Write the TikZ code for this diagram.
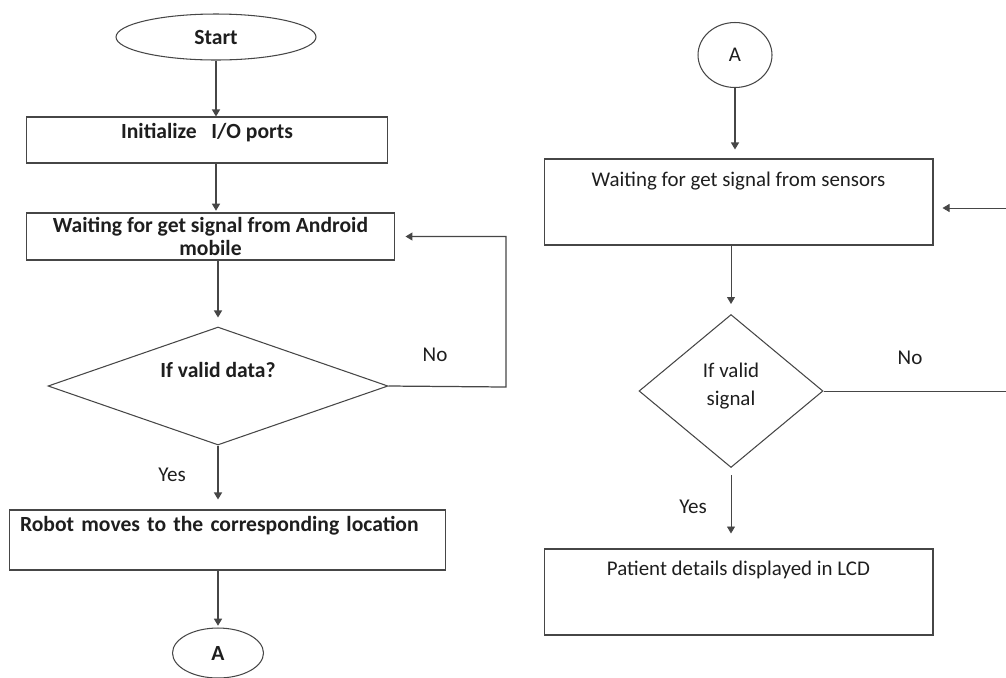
\documentclass[tikz,border=0pt]{standalone}
\usepackage{fontspec}
\setmainfont{Carlito}
\usetikzlibrary{positioning, arrows.meta, shapes.geometric, calc}
\definecolor{flowline}{RGB}{70, 70, 70}
\definecolor{flowtext}{RGB}{30, 30, 30}
\tikzset{
    flowbox/.style={draw=flowline, line width=0.6pt, align=center,
                text=flowtext, font=\fontsize{11.9}{12.5}\selectfont},
    flowbold/.style={font=\fontsize{12.3}{12.8}\selectfont\bfseries, text=flowtext},
    flowterm/.style={draw=flowline, line width=0.6pt, ellipse, inner sep=0pt,
                text=flowtext, font=\fontsize{11.9}{12.5}\selectfont},
    flowdec/.style={draw=flowline, line width=0.6pt, diamond, inner sep=0pt,
                align=center, text=flowtext, font=\fontsize{11.9}{16}\selectfont},
    flowarr/.style={-{Triangle[length=1.4mm, width=1.6mm]}, line width=0.7pt, flowline},
    flowthin/.style={line width=0.5pt, flowline},
    flowlbl/.style={font=\fontsize{12}{12.5}\selectfont, text=flowtext},
}

\begin{document}
\begin{tikzpicture}[x=0.02cm, y=-0.02cm]
    \useasboundingbox (0,0) rectangle (1006,677);

    % left column
    \node[flowterm, flowbold, minimum width=4cm, minimum height=0.92cm] (start) at (216,37) {Start};
    \node[flowbox, flowbold, minimum width=7.24cm, minimum height=0.92cm,
          text height=0.3cm, text depth=0.38cm, inner ysep=0.12cm] (init) at (207,140) {Initialize~~~I/O ports};
    \node[flowbox, flowbold, minimum width=7.38cm, minimum height=0.94cm,
          inner ysep=0.03cm] (wait) at (210.5,236.5) {Waiting for get signal from Android\\mobile};
    \node[flowdec, minimum width=6.8cm, minimum height=2.36cm,
          label={[flowbold, yshift=0.32cm]center:{If valid data?}}] (valid) at (218,386) {};
    \node[flowbox, flowbold, align=left, minimum width=8.74cm, minimum height=1.2cm,
          text width=8.3cm, inner xsep=0.22cm, text height=0.3cm, text depth=0.66cm,
          inner ysep=0.12cm] (robot) at (227.5,540) {Robot moves to the corresponding location};
    \node[flowterm, flowbold, minimum width=1.82cm, minimum height=1.0cm] (connA) at (218,653) {A};

    \draw[flowarr] (start) -- (start |- init.north);
    \draw[flowarr, shorten >=1pt] (init.south -| start) -- (start |- wait.north);
    \draw[flowarr, shorten >=0.18cm] (valid |- wait.south) -- (valid.north);
    \coordinate (noturn) at (506,387);
    \draw[flowarr, shorten >=0.2cm] (valid.east) -- (noturn) |- (wait.east);
    \draw[flowarr, shorten >=0.2cm] (valid.south) -- (valid |- robot.north);
    \draw[flowarr, shorten >=1pt] (valid |- robot.south) -- (connA);

    \node[flowlbl] (noL) at (435,355) {No};
    \node[flowlbl] (yesL) at (172,475) {Yes};

    % right column
    \node[flowterm, minimum width=1.48cm, minimum height=1.3cm] (connB) at (735,55) {A};
    \node[flowbox, minimum width=7.78cm, minimum height=1.72cm,
          text height=0.3cm, text depth=0.94cm, inner ysep=0.24cm] (sensors) at (738.5,202) {Waiting for get signal from sensors};
    \node[flowdec, minimum width=3.68cm, minimum height=3.06cm,
          label={[flowdec, draw=none, yshift=0.1cm]center:{If valid\\signal}}] (valid2) at (731,391) {};
    \node[flowbox, minimum width=7.78cm, minimum height=1.72cm,
          text height=0.3cm, text depth=0.98cm, inner ysep=0.22cm] (patient) at (738.5,592) {Patient details displayed in LCD};

    \draw[flowarr, shorten >=0.18cm] (connB) -- (connB |- sensors.north);
    \draw[flowarr, line width=0.5pt, shorten >=0.2cm] (valid2 |- sensors.south) -- (valid2.north);
    \coordinate (edgeno) at (1006,391);
    \coordinate (edgeback) at (1006,208);
    \draw[flowthin] (valid2.east) -- (edgeno);
    \draw[flowarr, line width=0.5pt, shorten >=0.18cm] (edgeback) -- (sensors.east |- edgeback);
    \draw[flowarr, line width=0.5pt, shorten <=0.14cm, shorten >=0.3cm] (valid2.south) -- (valid2 |- patient.north);

    \node[flowlbl] (noR) at (910,358) {No};
    \node[flowlbl] (yesR) at (693,507) {Yes};

\end{tikzpicture}
\end{document}
